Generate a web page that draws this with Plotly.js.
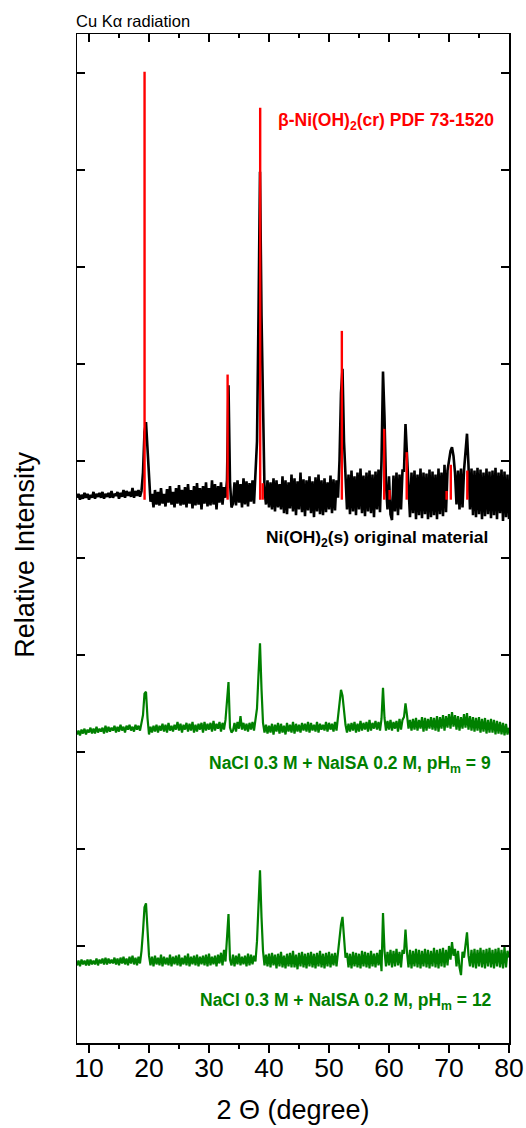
<!DOCTYPE html>
<html>
<head>
<meta charset="utf-8">
<script src="https://cdn.plot.ly/plotly-3.0.1.min.js"></script>
<style>
  html, body { margin: 0; padding: 0; background: #fff; }
  #xrd { width: 526px; height: 1128px; }
</style>
</head>
<body>
<div id="xrd"></div>
<script>
// Scan axis: 2-theta from 8 to 80 degrees, 0.25 degree step
const scanStart = 8;
const scanStep = 0.25;

// Ni(OH)2(s) original material (stacked, relative intensity)
const originalMaterial = [
  5.62, 5.66, 5.60, 5.65,  5.61, 5.67, 5.62, 5.66,  5.60, 5.65, 5.62, 5.68,
  5.61, 5.66, 5.63, 5.67,  5.62, 5.68, 5.61, 5.66,  5.63, 5.67, 5.62, 5.69,
  5.62, 5.66, 5.64, 5.68,  5.61, 5.67, 5.63, 5.70,  5.62, 5.69, 5.64, 5.68,
  5.63, 5.72, 5.62, 5.69,  5.64, 5.70, 5.63, 5.69,  5.88, 6.30, 6.40, 6.10,
  5.80, 5.58, 5.66, 5.52,  5.70, 5.55, 5.68, 5.54,  5.72, 5.56, 5.66, 5.53,
  5.71, 5.57, 5.74, 5.55,  5.68, 5.52, 5.72, 5.56,  5.75, 5.54, 5.70, 5.55,
  5.73, 5.52, 5.76, 5.56,  5.70, 5.51, 5.74, 5.54,  5.77, 5.55, 5.72, 5.50,
  5.74, 5.56, 5.78, 5.53,  5.72, 5.54, 5.80, 5.55,  5.76, 5.50, 5.74, 5.57,
  5.78, 5.55, 5.73, 5.62,  5.80, 6.78, 5.78, 5.52,  5.56, 5.78, 5.54, 5.80,
  5.57, 5.76, 5.52, 5.82,  5.55, 5.79, 5.53, 5.77,  5.58, 5.80, 5.56, 5.85,
  6.20, 7.50, 8.98, 7.50,  6.30, 5.70, 5.55, 5.80,  5.52, 5.78, 5.50, 5.82,
  5.48, 5.80, 5.52, 5.76,  5.50, 5.84, 5.46, 5.80,  5.45, 5.78, 5.51, 5.86,
  5.48, 5.82, 5.44, 5.79,  5.50, 5.88, 5.47, 5.81,  5.43, 5.80, 5.49, 5.84,
  5.46, 5.79, 5.42, 5.83,  5.48, 5.86, 5.45, 5.80,  5.44, 5.82, 5.47, 5.78,
  5.50, 5.85, 5.46, 5.81,  5.49, 5.80, 5.62, 6.00,  6.70, 6.95, 6.20, 5.80,
  5.50, 5.86, 5.45, 5.90,  5.48, 5.84, 5.44, 5.88,  5.50, 5.92, 5.46, 5.85,
  5.43, 5.88, 5.48, 5.90,  5.46, 5.86, 5.42, 5.89,  5.50, 5.91, 5.47, 6.00,
  6.92, 6.45, 5.75, 5.50,  5.84, 5.45, 5.39, 5.85,  5.48, 5.88, 5.44, 5.86,
  5.50, 5.90, 5.90, 6.38,  6.05, 5.60, 5.42, 5.88,  5.46, 5.90, 5.40, 5.86,
  5.44, 5.92, 5.41, 5.88,  5.45, 5.87, 5.40, 5.91,  5.42, 5.89, 5.44, 5.86,
  5.40, 5.92, 5.45, 5.88,  5.43, 5.96, 5.47, 5.90,  6.02, 6.10, 6.14, 6.05,
  5.88, 5.55, 5.90, 5.50,  5.92, 5.52, 5.90, 6.15,  6.28, 5.95, 5.50, 5.92,
  5.44, 5.90, 5.42, 5.93,  5.45, 5.91, 5.40, 5.88,  5.43, 5.92, 5.45, 5.89,
  5.41, 5.90, 5.44, 5.93,  5.40, 5.88, 5.46, 5.91,  5.38, 5.89, 5.42, 5.86,
  5.40
];

// NaCl 0.3 M + NaISA 0.2 M, pHm = 9
const solidPh9 = [
  3.18, 3.22, 3.17, 3.23,  3.19, 3.24, 3.18, 3.23,  3.20, 3.25, 3.19, 3.24,
  3.19, 3.26, 3.20, 3.24,  3.21, 3.25, 3.19, 3.27,  3.20, 3.26, 3.21, 3.25,
  3.22, 3.27, 3.20, 3.26,  3.21, 3.28, 3.22, 3.26,  3.20, 3.27, 3.23, 3.28,
  3.22, 3.26, 3.21, 3.28,  3.23, 3.27, 3.22, 3.30,  3.38, 3.60, 3.62, 3.35,
  3.18, 3.26, 3.20, 3.27,  3.21, 3.28, 3.20, 3.27,  3.22, 3.29, 3.21, 3.28,
  3.20, 3.30, 3.22, 3.27,  3.21, 3.28, 3.23, 3.31,  3.22, 3.29, 3.20, 3.28,
  3.23, 3.30, 3.21, 3.29,  3.22, 3.31, 3.20, 3.28,  3.21, 3.29, 3.23, 3.30,
  3.20, 3.31, 3.22, 3.29,  3.23, 3.30, 3.21, 3.32,  3.22, 3.29, 3.24, 3.31,
  3.21, 3.30, 3.23, 3.33,  3.50, 3.72, 3.25, 3.20,  3.22, 3.30, 3.21, 3.31,
  3.24, 3.37, 3.23, 3.30,  3.22, 3.29, 3.21, 3.30,  3.23, 3.31, 3.22, 3.34,
  3.45, 3.80, 4.12, 3.65,  3.30, 3.20, 3.28, 3.19,  3.27, 3.20, 3.29, 3.18,
  3.28, 3.21, 3.30, 3.19,  3.29, 3.20, 3.27, 3.18,  3.30, 3.21, 3.28, 3.20,
  3.31, 3.19, 3.29, 3.21,  3.28, 3.20, 3.30, 3.22,  3.29, 3.21, 3.31, 3.20,
  3.30, 3.22, 3.28, 3.21,  3.31, 3.20, 3.29, 3.23,  3.28, 3.22, 3.31, 3.21,
  3.30, 3.23, 3.29, 3.21,  3.31, 3.22, 3.35, 3.45,  3.64, 3.58, 3.38, 3.28,
  3.20, 3.29, 3.21, 3.30,  3.22, 3.31, 3.20, 3.29,  3.21, 3.32, 3.22, 3.30,
  3.23, 3.31, 3.21, 3.33,  3.22, 3.30, 3.24, 3.32,  3.23, 3.31, 3.22, 3.34,
  3.66, 3.35, 3.22, 3.32,  3.23, 3.33, 3.22, 3.31,  3.24, 3.32, 3.21, 3.34,
  3.23, 3.33, 3.36, 3.50,  3.38, 3.24, 3.33, 3.22,  3.34, 3.23, 3.35, 3.22,
  3.33, 3.24, 3.36, 3.21,  3.35, 3.22, 3.34, 3.24,  3.36, 3.23, 3.35, 3.22,
  3.37, 3.21, 3.36, 3.24,  3.38, 3.22, 3.37, 3.25,  3.39, 3.24, 3.41, 3.26,
  3.38, 3.23, 3.37, 3.22,  3.36, 3.24, 3.39, 3.25,  3.40, 3.23, 3.37, 3.22,
  3.36, 3.21, 3.35, 3.22,  3.36, 3.20, 3.34, 3.21,  3.35, 3.19, 3.33, 3.20,
  3.34, 3.20, 3.33, 3.18,  3.32, 3.19, 3.31, 3.18,  3.30, 3.17, 3.29, 3.18,
  3.25
];

// NaCl 0.3 M + NaISA 0.2 M, pHm = 12
const solidPh12 = [
  0.80, 0.85, 0.79, 0.86,  0.81, 0.85, 0.80, 0.86,  0.80, 0.86, 0.81, 0.85,
  0.81, 0.87, 0.80, 0.86,  0.82, 0.87, 0.81, 0.88,  0.81, 0.87, 0.82, 0.86,
  0.82, 0.88, 0.81, 0.87,  0.80, 0.88, 0.82, 0.89,  0.81, 0.87, 0.80, 0.89,
  0.82, 0.90, 0.81, 0.88,  0.80, 0.89, 0.82, 0.95,  1.15, 1.40, 1.44, 1.15,
  0.90, 0.80, 0.89, 0.79,  0.90, 0.81, 0.88, 0.80,  0.91, 0.79, 0.89, 0.81,
  0.88, 0.80, 0.91, 0.79,  0.89, 0.81, 0.90, 0.80,  0.91, 0.79, 0.88, 0.81,
  0.90, 0.80, 0.92, 0.79,  0.89, 0.81, 0.90, 0.80,  0.91, 0.79, 0.89, 0.81,
  0.90, 0.80, 0.91, 0.79,  0.92, 0.80, 0.89, 0.81,  0.90, 0.79, 0.91, 0.82,
  0.93, 0.80, 0.96, 0.84,  1.10, 1.33, 0.86, 0.80,  0.91, 0.79, 0.90, 0.81,
  0.92, 0.80, 0.89, 0.81,  0.90, 0.79, 0.92, 0.80,  0.91, 0.81, 0.90, 0.84,
  1.05, 1.50, 1.78, 1.30,  0.95, 0.80, 0.91, 0.79,  0.92, 0.78, 0.93, 0.80,
  0.91, 0.77, 0.92, 0.79,  0.94, 0.78, 0.90, 0.77,  0.92, 0.79, 0.93, 0.78,
  0.95, 0.78, 0.91, 0.76,  0.93, 0.79, 0.94, 0.78,  0.92, 0.77, 0.93, 0.79,
  0.94, 0.78, 0.92, 0.77,  0.93, 0.79, 0.95, 0.78,  0.92, 0.77, 0.93, 0.79,
  0.94, 0.78, 0.92, 0.80,  0.93, 0.79, 0.95, 1.05,  1.22, 1.30, 1.05, 0.88,
  0.93, 0.78, 0.92, 0.77,  0.94, 0.79, 0.93, 0.78,  0.92, 0.77, 0.95, 0.79,
  0.94, 0.78, 0.93, 0.77,  0.95, 0.79, 0.92, 0.78,  0.93, 0.80, 0.96, 0.74,
  1.34, 0.95, 0.79, 0.94,  0.80, 0.96, 0.78, 0.95,  0.79, 0.97, 0.80, 0.94,
  0.78, 0.96, 0.92, 1.17,  0.93, 0.78, 0.96, 0.77,  0.95, 0.79, 0.97, 0.78,
  0.96, 0.77, 0.95, 0.79,  0.97, 0.78, 0.96, 0.77,  0.95, 0.79, 0.98, 0.78,
  0.96, 0.77, 0.97, 0.79,  0.98, 0.78, 0.96, 0.80,  1.00, 0.86, 1.04, 0.90,
  0.97, 0.79, 0.95, 0.78,  0.70, 0.94, 0.88, 1.05,  1.14, 0.90, 0.79, 0.96,
  0.78, 0.97, 0.77, 0.96,  0.79, 0.98, 0.78, 0.96,  0.77, 0.97, 0.79, 0.98,
  0.78, 0.96, 0.77, 0.97,  0.79, 0.98, 0.78, 0.96,  0.77, 0.99, 0.78, 0.95,
  0.88
];

// beta-Ni(OH)2(cr) reference reflections, PDF 73-1520
const refPositions = [19.26, 33.10, 38.53, 38.95, 52.14, 59.20, 60.10, 62.95, 69.60, 70.30, 73.05];
const refBase = 5.60;
const refTops = [10.01, 6.89, 9.64, 5.77, 7.34, 6.33, 5.70, 6.09, 5.69, 5.96, 5.90];

const twoTheta = originalMaterial.map((_, i) => scanStart + i * scanStep);

// Stick pattern as one broken line: base -> top, gap
const stickX = [], stickY = [];
refPositions.forEach((p, i) => {
  stickX.push(p, p, null);
  stickY.push(refBase, refTops[i], null);
});

const BLACK = '#000000', RED = '#ff0000', GREEN = '#008000';
const FONT = 'Arial, "Liberation Sans", sans-serif';

const traces = [
  { x: twoTheta, y: originalMaterial, mode: 'lines', line: { color: BLACK, width: 2.6 }, hoverinfo: 'skip' },
  { x: stickX, y: stickY, mode: 'lines', line: { color: RED, width: 2.4 }, hoverinfo: 'skip' },
  { x: twoTheta, y: solidPh9, mode: 'lines', line: { color: GREEN, width: 2.2 }, hoverinfo: 'skip' },
  { x: twoTheta, y: solidPh12, mode: 'lines', line: { color: GREEN, width: 2.2 }, hoverinfo: 'skip' },
  // carries the top (mirror) axis
  { x: [], y: [], xaxis: 'x2', yaxis: 'y', mode: 'lines', hoverinfo: 'skip' }
];

const axisCommon = {
  showgrid: false, zeroline: false, showline: true,
  linecolor: BLACK, linewidth: 1.5, tickcolor: BLACK, tickwidth: 1.5
};

const layout = {
  width: 526, height: 1128,
  margin: { l: 77, r: 17, t: 34, b: 85 },
  paper_bgcolor: '#ffffff', plot_bgcolor: '#ffffff',
  showlegend: false,
  font: { family: FONT, color: BLACK },
  xaxis: Object.assign({}, axisCommon, {
    range: [8, 80], tick0: 10, dtick: 10,
    ticks: 'outside', ticklen: 8, ticklabelstandoff: -7,
    minor: { dtick: 5, tick0: 10, ticks: 'outside', ticklen: 4, tickwidth: 1.5, tickcolor: BLACK, showgrid: false },
    tickfont: { size: 26.5, family: FONT, color: BLACK },
    title: { text: '2 \u0398 (degree)', font: { size: 27, family: FONT, color: BLACK }, standoff: 18 }
  }),
  xaxis2: Object.assign({}, axisCommon, {
    overlaying: 'x', side: 'top', matches: 'x',
    range: [8, 80], tick0: 10, dtick: 10,
    ticks: 'inside', ticklen: 8, showticklabels: false,
    minor: { dtick: 5, tick0: 10, ticks: 'inside', ticklen: 4, tickwidth: 1.5, tickcolor: BLACK, showgrid: false }
  }),
  yaxis: Object.assign({}, axisCommon, {
    range: [0, 10.4], tick0: 0, dtick: 1,
    ticks: 'inside', ticklen: 8, mirror: 'ticks',
    showticklabels: false
  }),
  annotations: [
    { xref: 'paper', yref: 'paper', x: 0, y: 0.484, xanchor: 'center', yanchor: 'middle', xshift: -52,
      textangle: -90, text: 'Relative Intensity', showarrow: false,
      font: { size: 27, family: FONT, color: BLACK } },
    { xref: 'paper', yref: 'paper', x: 0, y: 1, xanchor: 'left', yanchor: 'bottom', yshift: 2, xshift: -3,
      text: 'Cu K\u03b1 radiation', showarrow: false, font: { size: 16.5, family: FONT, color: BLACK } },
    { xref: 'x', yref: 'y', x: 77.9, y: 9.5, xanchor: 'right', yanchor: 'middle',
      text: '<b>\u03b2-Ni(OH)<sub>2</sub>(cr) PDF 73-1520</b>', showarrow: false,
      font: { size: 17.5, family: FONT, color: RED } },
    { xref: 'x', yref: 'y', x: 76.75, y: 5.2, xanchor: 'right', yanchor: 'middle',
      text: '<b>Ni(OH)<sub>2</sub>(s) original material</b>', showarrow: false,
      font: { size: 17.4, family: FONT, color: BLACK } },
    { xref: 'x', yref: 'y', x: 77.35, y: 2.87, xanchor: 'right', yanchor: 'middle',
      text: '<b>NaCl 0.3 M + NaISA 0.2 M, pH<sub>m</sub> = 9</b>', showarrow: false,
      font: { size: 17.5, family: FONT, color: GREEN } },
    { xref: 'x', yref: 'y', x: 77.45, y: 0.43, xanchor: 'right', yanchor: 'middle',
      text: '<b>NaCl 0.3 M + NaISA 0.2 M, pH<sub>m</sub> = 12</b>', showarrow: false,
      font: { size: 17.5, family: FONT, color: GREEN } }
  ]
};

Plotly.newPlot('xrd', traces, layout, { staticPlot: true, displayModeBar: false });
</script>
</body>
</html>
